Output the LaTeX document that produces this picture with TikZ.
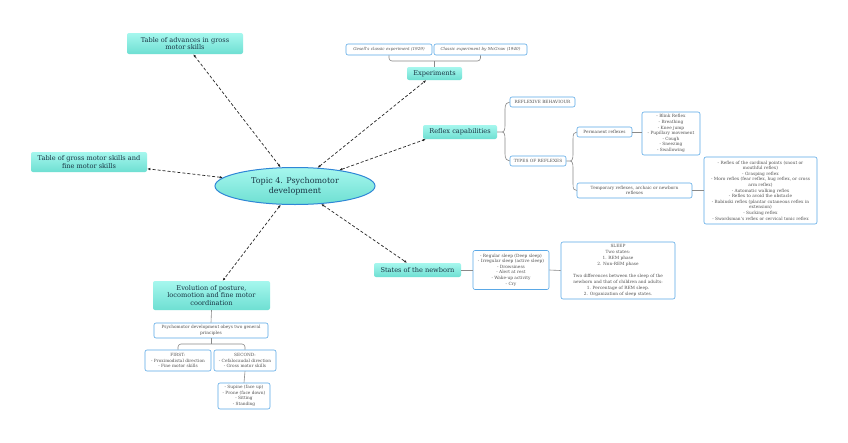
\documentclass[tikz,border=0pt]{standalone}
\usepackage{fontspec}
\setmainfont{DejaVu Serif}
\usetikzlibrary{arrows.meta,shapes.geometric}
\definecolor{tealA}{HTML}{A6F7EE}
\definecolor{tealB}{HTML}{6EDFD2}
\definecolor{blueB}{HTML}{5AA8E6}
\definecolor{blueT}{HTML}{2F86D6}
\definecolor{txtD}{HTML}{1A3544}
\definecolor{txtG}{HTML}{505050}
\definecolor{lineG}{HTML}{8A8A8A}
\begin{document}
\begin{tikzpicture}[x=1pt,y=-1pt,
 topic/.style={ellipse, draw=blueT, line width=1pt, top color=tealA, bottom color=tealB, minimum width=160pt, minimum height=37pt, inner sep=0pt, align=center, font=\fontsize{8}{9.6}\selectfont, text=txtD},
 mainbox/.style={rectangle, rounded corners=2pt, top color=tealA, bottom color=tealB, draw=none, align=center, inner sep=0pt, font=\fontsize{6.6}{7.6}\selectfont, text=txtD},
 subbox/.style={rectangle, rounded corners=2pt, draw=blueB, line width=0.6pt, fill=white, align=center, inner sep=0pt, font=\fontsize{4.3}{5.6}\selectfont, text=txtG},
 dlink/.style={draw=black!85, dash pattern=on 3pt off 2pt, line width=0.7pt, {Latex[length=3pt,width=2.5pt]}-{Latex[length=3pt,width=2.5pt]}},
 tree/.style={draw=lineG, line width=0.6pt}
]
\useasboundingbox[fill=white] (0,0) rectangle (848,442);

% main nodes
\node[topic] (topic) at (295,186) {Topic 4. Psychomotor\\development};
\node[mainbox, minimum width=116pt, minimum height=21pt] (adv) at (185,43.5) {Table of advances in gross\\motor skills};
\node[mainbox, minimum width=116pt, minimum height=20pt] (gross) at (89,162) {Table of gross motor skills and\\fine motor skills};
\node[mainbox, minimum width=55pt, minimum height=13pt] (exp) at (434.5,73.5) {Experiments};
\node[mainbox, minimum width=74pt, minimum height=14pt] (refl) at (460,132) {Reflex capabilities};
\node[mainbox, minimum width=87pt, minimum height=14pt] (states) at (417.5,270) {States of the newborn};
\node[mainbox, minimum width=117pt, minimum height=29pt] (evo) at (211.5,295.5) {Evolution of posture,\\locomotion and fine motor\\coordination};

% sub nodes
\node[subbox, minimum width=86pt, minimum height=11pt, font=\fontsize{4.1}{5.4}\selectfont\itshape] (gesell) at (389,49.5) {Gesell's classic experiment (1929)};
\node[subbox, minimum width=93pt, minimum height=11pt, font=\fontsize{4.1}{5.4}\selectfont\itshape] (mcgraw) at (480.5,49.5) {Classic experiment by McGraw (1940)};
\node[subbox, minimum width=65pt, minimum height=10pt] (rb) at (542.5,102) {REFLEXIVE BEHAVIOUR};
\node[subbox, minimum width=56pt, minimum height=10pt] (tr) at (538,161) {TYPES OF REFLEXES};
\node[subbox, minimum width=55pt, minimum height=10pt] (perm) at (604.5,132) {Permanent reflexes};
\node[subbox, minimum width=58pt, minimum height=43pt] (permlist) at (671,133.5) {- Blink Reflex\\- Breathing\\- Knee jump\\- Pupillary movement\\- Cough\\- Sneezing\\- Swallowing};
\node[subbox, minimum width=115pt, minimum height=15pt] (temp) at (634.5,190.5) {Temporary reflexes, archaic or newborn\\reflexes};
\node[subbox, minimum width=113pt, minimum height=67pt] (templist) at (760.5,190.5) {- Reflex of the cardinal points (snout or\\mouthful reflex)\\- Grasping reflex\\- Moro reflex (fear reflex, hug reflex, or cross\\arm reflex)\\- Automatic walking reflex\\- Reflex to avoid the obstacle\\- Babinski reflex (plantar cutaneous reflex in\\extension)\\- Sucking reflex\\- Swordsman's reflex or cervical tonic reflex};
\node[subbox, minimum width=76pt, minimum height=39pt] (sleeplist) at (511,270) {- Regular sleep (Deep sleep)\\- Irregular sleep (active sleep)\\- Drowsiness\\- Alert at rest\\- Wake-up activity\\- Cry};
\node[subbox, minimum width=114pt, minimum height=57pt, font=\fontsize{4.3}{6}\selectfont] (sleep) at (618,270.5) {SLEEP\\Two states:\\1. REM phase\\2. Non-REM phase\\[6pt]Two differences between the sleep of the\\newborn and that of children and adults:\\1. Percentage of REM sleep.\\2. Organization of sleep states.};
\node[subbox, minimum width=114pt, minimum height=15pt] (psy) at (211,330.5) {Psychomotor development obeys two general\\principles};
\node[subbox, minimum width=66pt, minimum height=21pt] (first) at (178,360.5) {FIRST:\\- Proximodistal direction\\- Fine motor skills};
\node[subbox, minimum width=62pt, minimum height=21pt] (second) at (245,360.5) {SECOND:\\- Cefalocaudal direction\\- Gross motor skills};
\node[subbox, minimum width=52pt, minimum height=26pt] (supine) at (244,396) {- Supine (face up)\\- Prone (face down)\\- Sitting\\- Standing};

% dashed links
\draw[dlink] (topic) -- (adv);
\draw[dlink] (topic) -- (gross);
\draw[dlink] (topic) -- (exp);
\draw[dlink] (topic) -- ([xshift=3pt]refl.south west);
\draw[dlink] (topic) -- (states);
\draw[dlink] (topic) -- (evo);

% tree lines
\coordinate (eb) at (434.5,61);
\draw[tree, rounded corners=3pt] (gesell.south) -- (gesell.south |- eb) -- (mcgraw.south |- eb) -- (mcgraw.south);
\draw[tree] (exp.north) -- (eb);

\draw[tree] (refl.east) -- (502,132) .. controls (504.5,132) and (505,129) .. (505,125) -- (505,109) .. controls (505,104) and (507,102) .. (rb.west);
\draw[tree] (502,132) .. controls (504.5,132) and (505,135) .. (505,139) -- (505,154) .. controls (505,159) and (507,161) .. (tr.west);

\draw[tree] (tr.east) -- (570,161) .. controls (572.5,161) and (573,158) .. (573,154) -- (573,139) .. controls (573,134) and (574,132) .. (perm.west);
\draw[tree] (570,161) .. controls (572.5,161) and (573,164) .. (573,168) -- (573,184) .. controls (573,189) and (574,190.5) .. (temp.west);

\draw[tree] (perm.east) -- (perm.east -| permlist.west);
\draw[tree] (temp.east) -- (templist.west);
\draw[tree] (states.east) -- (sleeplist.west);
\draw[tree] (sleeplist.east) -- (sleep.west);

\draw[tree] (evo.south) -- (psy.north);
\coordinate (pb) at (211,344);
\draw[tree] (psy.south) -- (pb);
\draw[tree, rounded corners=3pt] (first.north) -- (first.north |- pb) -- (second.north |- pb) -- (second.north);
\draw[tree] (second.south) -- (supine.north);
\end{tikzpicture}
\end{document}
